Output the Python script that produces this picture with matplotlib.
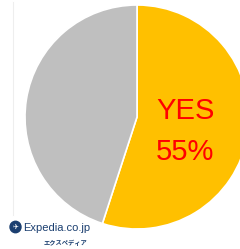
import matplotlib.pyplot as plt
from matplotlib.patches import Circle

# data
labels = ["YES", "NO"]
values = [55, 45]
colors = ["#FFC000", "#BFBFBF"]

fig = plt.figure(figsize=(2.4, 2.49), dpi=100)
W, H = 240, 249

# pie axes: centre ~ (137, 117) px, radius ~ 112 px
ax = fig.add_axes([25 / W, 1 - 229 / H, 224 / W, 224 / H])
ax.pie(values, colors=colors, startangle=90, counterclock=False,
       wedgeprops=dict(edgecolor="white", linewidth=1.2), radius=1.0)
ax.set_xlim(-1, 1)
ax.set_ylim(-1, 1)
ax.set_aspect("equal")
ax.axis("off")

# label on the YES wedge
lab_font = dict(color="#FF0000", fontsize=21, ha="center", va="center",
                family="Liberation Sans")
ax.text(0.43, 0.05, labels[0], **lab_font)
ax.text(0.43, -0.31, f"{values[0]}%", **lab_font)

# faint border line on the left
fig.add_artist(plt.Line2D([12.5 / W, 12.5 / W], [1 - 2 / H, 1 - 215 / H],
                          color="#EEEEEE", linewidth=0.8))

# logo
fig.add_artist(Circle((15.5 / W, 1 - 227 / H), 5.5 / W, color="#1B3F70",
                      transform=fig.transFigure))
fig.text(16 / W, 1 - 227 / H, "✈", color="white", fontsize=5,
         ha="center", va="center", family="DejaVu Sans")
fig.text(23 / W, 1 - 228 / H, "Expedia.co.jp", color="#1B3F70",
         fontsize=8, ha="left", va="center",
         family="Liberation Sans")
fig.text(87 / W, 1 - 242 / H, "エクスペディア", color="#1B3F70",
         fontsize=4.5, ha="right", va="center", fontweight="bold",
         family=["Noto Sans CJK JP", "DejaVu Sans"])

plt.savefig("out.png", dpi=100)
